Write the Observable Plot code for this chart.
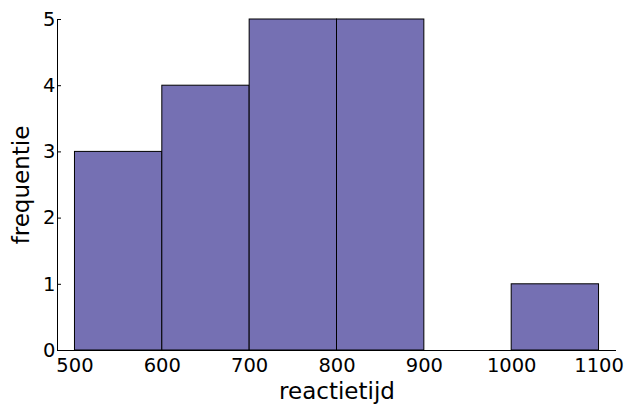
<!DOCTYPE html>
<html><head><meta charset="utf-8">
<script src="https://cdn.jsdelivr.net/npm/d3@7"></script>
<script src="https://cdn.jsdelivr.net/npm/@observablehq/plot@0.6"></script>
<style>
body{margin:0;background:#fff;}
#chart svg{display:block;}
</style>
</head><body><div id="chart"></div>
<script>
const binStarts = [500, 600, 700, 800, 900, 1000];
const binEnds = [600, 700, 800, 900, 1000, 1100];
const counts = [3, 4, 5, 5, 0, 1];
const xTicks = [500, 600, 700, 800, 900, 1000, 1100];
const yTicks = [0, 1, 2, 3, 4, 5];

const bins = binStarts.map((s, i) => ({x1: s, x2: binEnds[i], y: counts[i]})).filter(d => d.y > 0);

const chart = Plot.plot({
  width: 626, height: 405,
  marginLeft: 57, marginRight: 10, marginTop: 19, marginBottom: 55,
  style: {fontFamily: "DejaVu Sans", fontSize: "19.5px", color: "#000", background: "#fff"},
  x: {domain: [480, 1120]},
  y: {domain: [0, 5]},
  marks: [
    Plot.rectY(bins, {x1: "x1", x2: "x2", y: "y", fill: "#7570b3", stroke: "#000", strokeWidth: 1}),
    Plot.ruleX([480], {stroke: "#000", strokeWidth: 1}),
    Plot.ruleY([0], {stroke: "#000", strokeWidth: 1}),
    Plot.axisY(yTicks, {anchor: "left", tickSize: -4, tickPadding: 6, tickFormat: d3.format("d"), label: null, fontSize: 19.5}),
    Plot.axisX(xTicks, {anchor: "bottom", tickSize: 0, tickPadding: 8, tickFormat: d3.format("d"), label: null, fontSize: 19.5}),
    Plot.text(["reactietijd"], {frameAnchor: "bottom", lineAnchor: "middle", dy: 41, fontSize: 23}),
    Plot.text(["frequentie"], {frameAnchor: "left", textAnchor: "middle", lineAnchor: "middle", dx: -36, rotate: -90, fontSize: 23})
  ]
});
document.getElementById("chart").append(chart);
</script>
</body></html>
